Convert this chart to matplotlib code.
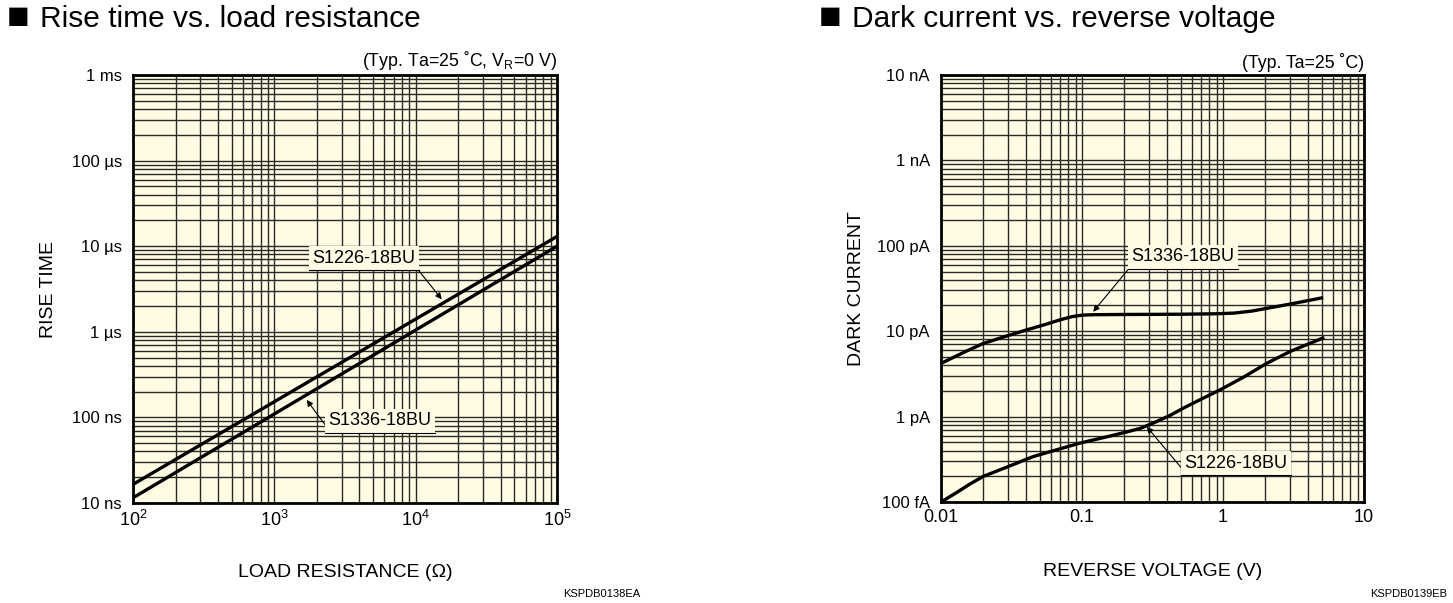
import numpy as np
import matplotlib
matplotlib.use("Agg")
import matplotlib.pyplot as plt
from matplotlib.ticker import FixedLocator, LogLocator, NullFormatter
from matplotlib.lines import Line2D

plt.rcParams['font.family'] = ['Liberation Sans', 'DejaVu Sans']
plt.rcParams['mathtext.fontset'] = 'custom'
plt.rcParams['mathtext.rm'] = 'Liberation Sans'
plt.rcParams['mathtext.it'] = 'Liberation Sans'

# Left chart: rise time vs load resistance
rl_ohm = [1e2, 1e5]
rise_s1226 = [1.65e-8, 1.3e-5]
rise_s1336 = [1.15e-8, 1.0e-5]
rise_ticks = [1e-8, 1e-7, 1e-6, 1e-5, 1e-4, 1e-3]
rise_labels = ["10 ns", "100 ns", "1 µs", "10 µs", "100 µs", "1 ms"]
rl_ticks = [1e2, 1e3, 1e4, 1e5]
rl_labels = ["$10^2$", "$10^3$", "$10^4$", "$10^5$"]

# Right chart: dark current vs reverse voltage
vr_s1336 = [0.01, 0.015, 0.02, 0.03, 0.04, 0.055, 0.07, 0.085, 0.1, 0.12, 0.2,
            0.5, 0.9, 1.2, 1.6, 2.0, 3.0, 5.0]
id_s1336 = [4.2e-12, 5.8e-12, 7.2e-12, 8.9e-12, 1.03e-11, 1.2e-11, 1.36e-11, 1.48e-11,
            1.54e-11, 1.56e-11, 1.57e-11, 1.58e-11, 1.6e-11, 1.63e-11, 1.72e-11,
            1.84e-11, 2.08e-11, 2.45e-11]
vr_s1226 = [0.01, 0.013, 0.016, 0.02, 0.03, 0.045, 0.07, 0.097, 0.15, 0.207, 0.26,
            0.32, 0.42, 0.52, 0.7, 0.95, 1.4, 2.04, 3.0, 5.1]
id_s1226 = [1.0e-13, 1.3e-13, 1.62e-13, 2.0e-13, 2.6e-13, 3.4e-13, 4.2e-13, 4.9e-13,
            5.8e-13, 6.6e-13, 7.3e-13, 8.4e-13, 1.03e-12, 1.25e-12, 1.6e-12, 2.05e-12,
            2.9e-12, 4.2e-12, 5.8e-12, 8.3e-12]
dark_ticks = [1e-13, 1e-12, 1e-11, 1e-10, 1e-9, 1e-8]
dark_labels = ["100 fA", "1 pA", "10 pA", "100 pA", "1 nA", "10 nA"]
vr_ticks = [0.01, 0.1, 1, 10]
vr_labels = ["0.01", "0.1", "1", "10"]

bg = '#FFFBE5'
grid_col = '#2a2a24'

fig = plt.figure(figsize=(14.53, 6.03), dpi=100)
ax1 = fig.add_axes([133 / 1453, 100 / 603, 424 / 1453, 428 / 603])
ax2 = fig.add_axes([941 / 1453, 101 / 603, 423 / 1453, 427 / 603])


def style_axes(ax, xlim, ylim, xt, xl, yt, yl):
    ax.set_facecolor(bg)
    ax.set_xscale('log')
    ax.set_yscale('log')
    ax.set_xlim(*xlim)
    ax.set_ylim(*ylim)
    ax.xaxis.set_major_locator(FixedLocator(xt))
    ax.set_xticklabels(xl)
    ax.yaxis.set_major_locator(FixedLocator(yt))
    ax.set_yticklabels(yl)
    ax.xaxis.set_minor_locator(LogLocator(base=10, subs=np.arange(2, 10), numticks=20))
    ax.yaxis.set_minor_locator(LogLocator(base=10, subs=np.arange(2, 10), numticks=20))
    ax.xaxis.set_minor_formatter(NullFormatter())
    ax.yaxis.set_minor_formatter(NullFormatter())
    ax.tick_params(which='both', length=0)
    ax.tick_params(axis='y', labelsize=12, pad=8)
    ax.tick_params(axis='x', labelsize=13, pad=5)
    ax.grid(True, which='both', color=grid_col, lw=1.0)
    ax.set_axisbelow(True)
    for s in ax.spines.values():
        s.set_linewidth(2.0)
        s.set_color('black')


style_axes(ax1, (1e2, 1e5), (1e-8, 1e-3), rl_ticks, rl_labels, rise_ticks, rise_labels)
style_axes(ax2, (0.01, 10), (1e-13, 1e-8), vr_ticks, vr_labels, dark_ticks, dark_labels)

ax1.plot(rl_ohm, rise_s1226, color='black', lw=2.4, solid_capstyle='butt', zorder=3)
ax1.plot(rl_ohm, rise_s1336, color='black', lw=2.4, solid_capstyle='butt', zorder=3)
ax2.plot(vr_s1336, id_s1336, color='black', lw=2.4, zorder=3)
ax2.plot(vr_s1226, id_s1226, color='black', lw=2.4, zorder=3)

ax1.set_xlabel("LOAD RESISTANCE (Ω)", fontsize=14)
ax1.set_ylabel("RISE TIME", fontsize=14)
ax1.xaxis.set_label_coords(0.5, -0.142)
ax1.yaxis.set_label_coords(-0.179, 0.5)
ax2.set_xlabel("REVERSE VOLTAGE (V)", fontsize=14)
ax2.set_ylabel("DARK CURRENT", fontsize=14)
ax2.xaxis.set_label_coords(0.5, -0.143)
ax2.yaxis.set_label_coords(-0.179, 0.5)

ax1.text(1.0, 1.008, "(Typ. Ta=25 ˚C, V$_\\mathregular{R}$=0 V)", transform=ax1.transAxes,
         ha='right', va='bottom', fontsize=12.8)
ax2.text(1.0, 1.008, "(Typ. Ta=25 ˚C)", transform=ax2.transAxes,
         ha='right', va='bottom', fontsize=12.8)

# titles: bigger square marker, then the title text
fig.text(7 / 1453, 1 - 28 / 603, "■", fontsize=27, ha='left', va='baseline')
fig.text(40 / 1453, 1 - 27 / 603, "Rise time vs. load resistance", fontsize=21.5,
         ha='left', va='baseline')
fig.text(819 / 1453, 1 - 28 / 603, "■", fontsize=27, ha='left', va='baseline')
fig.text(852 / 1453, 1 - 27 / 603, "Dark current vs. reverse voltage", fontsize=21.5,
         ha='left', va='baseline')
fig.text(640 / 1453, 1 - 597 / 603, "KSPDB0138EA", fontsize=8, ha='right', va='baseline')
fig.text(1447 / 1453, 1 - 597 / 603, "KSPDB0139EB", fontsize=8, ha='right', va='baseline')

notes = []


def label(ax, text, xy, xytext, relpos):
    a = ax.annotate(text, xy=xy, xytext=xytext, ha='center', va='center', fontsize=13,
                    bbox=dict(boxstyle='square,pad=0.2', fc=bg, ec='none'),
                    arrowprops=dict(arrowstyle='-|>', color='black', lw=0.8,
                                    mutation_scale=9, relpos=relpos,
                                    shrinkA=0, shrinkB=0),
                    zorder=4)
    notes.append(a)


label(ax1, "S1226-18BU", (15280, 2.4e-6), (4310, 7.28e-6), (1, 0))
label(ax1, "S1336-18BU", (1694, 1.6e-7), (5600, 9.08e-8), (0, 0))
label(ax2, "S1336-18BU", (0.12, 1.69e-11), (0.52, 7.4e-11), (0, 0))
label(ax2, "S1226-18BU", (0.288, 7.6e-13), (1.236, 2.86e-13), (0, 0))

# underline each callout box
fig.canvas.draw()
inv = fig.transFigure.inverted()
for a in notes:
    bb = a.get_bbox_patch().get_window_extent()
    (x0, y0), (x1, _) = inv.transform([(bb.x0, bb.y0), (bb.x1, bb.y0)])
    fig.add_artist(Line2D([x0, x1], [y0, y0], color='black', lw=0.8, transform=fig.transFigure))

fig.savefig("out.png", dpi=100, facecolor='white')
